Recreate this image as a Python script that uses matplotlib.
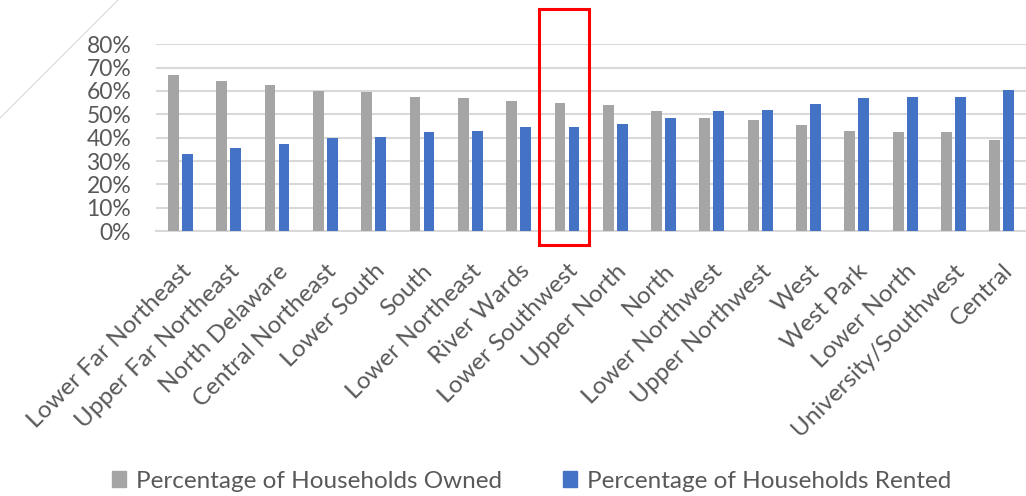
import matplotlib.pyplot as plt
import numpy as np
from matplotlib.lines import Line2D
from matplotlib.patches import Rectangle, Patch
from matplotlib.ticker import PercentFormatter

# Data
districts = ['Lower Far Northeast', 'Upper Far Northeast', 'North Delaware',
             'Central Northeast', 'Lower South', 'South', 'Lower Northeast',
             'River Wards', 'Lower Southwest', 'Upper North', 'North',
             'Lower Northwest', 'Upper Northwest', 'West', 'West Park',
             'Lower North', 'University/Southwest', 'Central']
owned = [66.8, 64.3, 62.5, 60.0, 59.5, 57.6, 57.0, 55.5, 55.0, 53.8, 51.4,
         48.4, 47.7, 45.2, 42.9, 42.3, 42.3, 39.2]
rented = [33.1, 35.6, 37.3, 39.9, 40.3, 42.3, 42.9, 44.7, 44.7, 45.9, 48.3,
          51.3, 51.9, 54.5, 56.9, 57.5, 57.5, 60.5]

GRAY = '#A5A5A5'
BLUE = '#4472C4'
TEXT = '#595959'

plt.rcParams['font.family'] = ['Lato', 'DejaVu Sans']

fig = plt.figure(figsize=(10.26, 4.96), dpi=100)
ax = fig.add_axes([0.1523, 0.534, 0.8477, 0.377])

x = np.arange(len(districts))
w = 0.225
ax.bar(x - 0.145, owned, width=w, color=GRAY, zorder=3)
ax.bar(x + 0.145, rented, width=w, color=BLUE, zorder=3)

ax.set_xlim(-0.5, len(districts) - 0.5)
ax.set_ylim(0, 80)
ax.set_yticks(np.arange(0, 81, 10))
ax.yaxis.set_major_formatter(PercentFormatter(decimals=0))
ax.grid(axis='y', color='#D9D9D9', linewidth=1.5, zorder=0)
for s in ['top', 'right', 'left']:
    ax.spines[s].set_visible(False)
ax.spines['bottom'].set_color('#D9D9D9')
ax.spines['bottom'].set_linewidth(1.5)
ax.tick_params(axis='both', length=0, labelcolor=TEXT)
ax.tick_params(axis='y', pad=18, labelsize=16.5)
ax.tick_params(axis='x', pad=21, labelsize=17.5)
ax.set_xticks(x)
ax.set_xticklabels(districts, rotation=45, ha='right', va='top',
                   rotation_mode='anchor')

# legend at the bottom
handles = [Patch(color=GRAY, label='Percentage of Households Owned'),
           Patch(color=BLUE, label='Percentage of Households Rented')]
fig.legend(handles=handles, loc='center', bbox_to_anchor=(0.518, 0.03),
           ncol=2, frameon=False, fontsize=17.5, labelcolor=TEXT,
           handlelength=0.6, handleheight=0.6, handletextpad=0.4,
           columnspacing=2.5)

# highlight box around Lower Southwest
fig.add_artist(Rectangle((539 / 1026, 1 - 245 / 496), 50 / 1026, 236 / 496,
                         transform=fig.transFigure, fill=False,
                         edgecolor='#FF0000', linewidth=2.2))

# slide decoration in the corner
fig.add_artist(Line2D([0, 118 / 1026], [1 - 118 / 496, 1],
                      transform=fig.transFigure, color='#D8D8D8', linewidth=0.8))

fig.savefig('out.png', dpi=100)
